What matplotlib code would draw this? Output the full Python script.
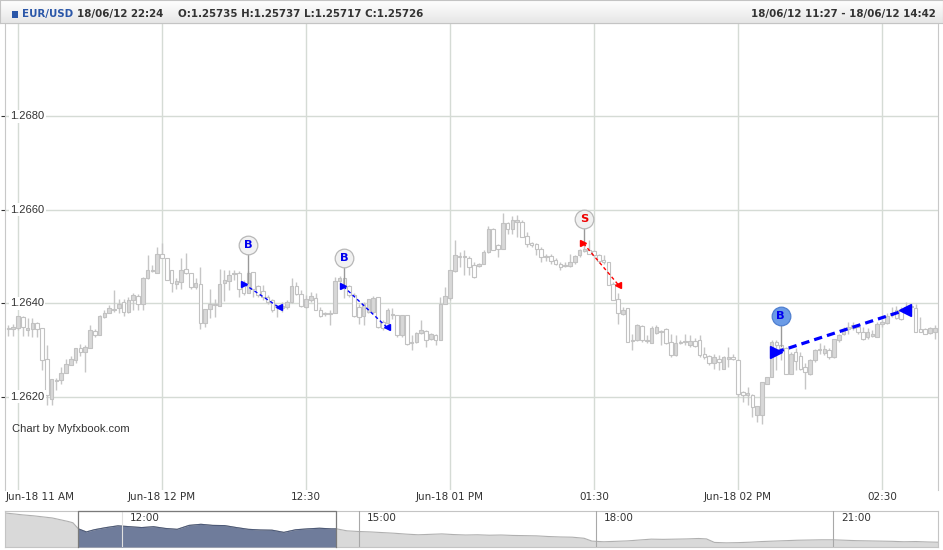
import matplotlib.pyplot as plt
import numpy as np
from matplotlib.patches import Rectangle

# EUR/USD 1-minute candles, x = minutes from the "11 AM" gridline
minutes = list(range(-3, 192))
opens = [1.26346, 1.26344, 1.26345, 1.26346, 1.26371, 1.26343, 1.26345, 1.26358, 1.26346, 1.26280,
         1.26194, 1.26234, 1.26236, 1.26251, 1.26268, 1.26278, 1.26303, 1.26295, 1.26305, 1.26340,
         1.26331, 1.26370, 1.26380, 1.26386, 1.26390, 1.26403, 1.26382, 1.26406, 1.26416, 1.26398,
         1.26453, 1.26470, 1.26465, 1.26506, 1.26497, 1.26471, 1.26442, 1.26446, 1.26474, 1.26465,
         1.26434, 1.26442, 1.26358, 1.26388, 1.26396, 1.26394, 1.26444, 1.26447, 1.26463, 1.26465,
         1.26442, 1.26421, 1.26467, 1.26436, 1.26426, 1.26414, 1.26406, 1.26393, 1.26390, 1.26391,
         1.26403, 1.26436, 1.26420, 1.26391, 1.26406, 1.26412, 1.26386, 1.26376, 1.26379, 1.26379,
         1.26447, 1.26455, 1.26436, 1.26417, 1.26392, 1.26372, 1.26381, 1.26381, 1.26413, 1.26360,
         1.26358, 1.26374, 1.26374, 1.26331, 1.26374, 1.26316, 1.26317, 1.26336, 1.26341, 1.26324,
         1.26331, 1.26322, 1.26399, 1.26412, 1.26470, 1.26501, 1.26499, 1.26496, 1.26481, 1.26479,
         1.26485, 1.26510, 1.26558, 1.26524, 1.26517, 1.26571, 1.26558, 1.26574, 1.26574, 1.26544,
         1.26528, 1.26526, 1.26515, 1.26501, 1.26501, 1.26492, 1.26484, 1.26479, 1.26480, 1.26488,
         1.26503, 1.26512, 1.26514, 1.26512, 1.26503, 1.26493, 1.26489, 1.26442, 1.26410, 1.26376,
         1.26389, 1.26321, 1.26321, 1.26351, 1.26321, 1.26314, 1.26336, 1.26341, 1.26344, 1.26317,
         1.26289, 1.26317, 1.26316, 1.26310, 1.26320, 1.26321, 1.26291, 1.26286, 1.26271, 1.26281,
         1.26260, 1.26280, 1.26284, 1.26279, 1.26209, 1.26204, 1.26203, 1.26160, 1.26160, 1.26228,
         1.26242, 1.26317, 1.26310, 1.26304, 1.26249, 1.26296, 1.26286, 1.26264, 1.26248, 1.26278,
         1.26299, 1.26294, 1.26299, 1.26284, 1.26321, 1.26335, 1.26344, 1.26346, 1.26348, 1.26339,
         1.26328, 1.26330, 1.26328, 1.26356, 1.26358, 1.26375, 1.26386, 1.26385, 1.26386, 1.26393,
         1.26389, 1.26344, 1.26344, 1.26336, 1.26338]
highs = [1.26352, 1.26353, 1.26355, 1.26373, 1.26372, 1.26369, 1.26369, 1.26360, 1.26346, 1.26310,
         1.26237, 1.26239, 1.26263, 1.26281, 1.26286, 1.26303, 1.26313, 1.26310, 1.26353, 1.26344,
         1.26374, 1.26385, 1.26396, 1.26429, 1.26410, 1.26410, 1.26413, 1.26421, 1.26419, 1.26456,
         1.26503, 1.26481, 1.26521, 1.26529, 1.26497, 1.26471, 1.26453, 1.26496, 1.26508, 1.26465,
         1.26453, 1.26478, 1.26388, 1.26431, 1.26410, 1.26474, 1.26472, 1.26472, 1.26472, 1.26469,
         1.26449, 1.26470, 1.26467, 1.26439, 1.26439, 1.26417, 1.26410, 1.26396, 1.26403, 1.26406,
         1.26455, 1.26446, 1.26428, 1.26417, 1.26424, 1.26421, 1.26392, 1.26381, 1.26385, 1.26456,
         1.26458, 1.26455, 1.26439, 1.26421, 1.26399, 1.26403, 1.26410, 1.26415, 1.26413, 1.26364,
         1.26389, 1.26389, 1.26374, 1.26374, 1.26374, 1.26331, 1.26339, 1.26365, 1.26342, 1.26336,
         1.26335, 1.26413, 1.26434, 1.26472, 1.26535, 1.26510, 1.26514, 1.26501, 1.26489, 1.26486,
         1.26514, 1.26565, 1.26560, 1.26526, 1.26594, 1.26574, 1.26586, 1.26589, 1.26578, 1.26553,
         1.26531, 1.26528, 1.26521, 1.26506, 1.26506, 1.26496, 1.26489, 1.26489, 1.26506, 1.26503,
         1.26517, 1.26529, 1.26536, 1.26514, 1.26506, 1.26503, 1.26489, 1.26446, 1.26421, 1.26391,
         1.26389, 1.26335, 1.26356, 1.26353, 1.26331, 1.26351, 1.26353, 1.26343, 1.26346, 1.26335,
         1.26331, 1.26321, 1.26335, 1.26331, 1.26326, 1.26331, 1.26306, 1.26289, 1.26292, 1.26289,
         1.26286, 1.26306, 1.26292, 1.26280, 1.26211, 1.26221, 1.26206, 1.26180, 1.26231, 1.26242,
         1.26321, 1.26321, 1.26310, 1.26306, 1.26296, 1.26304, 1.26296, 1.26271, 1.26280, 1.26301,
         1.26314, 1.26310, 1.26303, 1.26324, 1.26335, 1.26349, 1.26360, 1.26360, 1.26353, 1.26349,
         1.26346, 1.26342, 1.26360, 1.26364, 1.26378, 1.26392, 1.26394, 1.26392, 1.26403, 1.26399,
         1.26399, 1.26371, 1.26346, 1.26349, 1.26353]
lows = [1.26330, 1.26329, 1.26329, 1.26342, 1.26329, 1.26329, 1.26328, 1.26328, 1.26256, 1.26181,
        1.26181, 1.26215, 1.26228, 1.26251, 1.26268, 1.26272, 1.26288, 1.26253, 1.26305, 1.26328,
        1.26331, 1.26369, 1.26378, 1.26381, 1.26378, 1.26372, 1.26378, 1.26385, 1.26385, 1.26385,
        1.26451, 1.26467, 1.26465, 1.26496, 1.26449, 1.26424, 1.26431, 1.26430, 1.26463, 1.26431,
        1.26431, 1.26344, 1.26348, 1.26369, 1.26371, 1.26394, 1.26405, 1.26429, 1.26449, 1.26414,
        1.26417, 1.26421, 1.26414, 1.26414, 1.26406, 1.26399, 1.26381, 1.26371, 1.26381, 1.26388,
        1.26401, 1.26417, 1.26392, 1.26390, 1.26403, 1.26385, 1.26371, 1.26372, 1.26353, 1.26379,
        1.26442, 1.26412, 1.26414, 1.26371, 1.26355, 1.26353, 1.26378, 1.26378, 1.26346, 1.26342,
        1.26356, 1.26367, 1.26328, 1.26328, 1.26310, 1.26299, 1.26314, 1.26335, 1.26306, 1.26321,
        1.26310, 1.26322, 1.26399, 1.26406, 1.26467, 1.26478, 1.26460, 1.26460, 1.26455, 1.26478,
        1.26484, 1.26508, 1.26514, 1.26499, 1.26517, 1.26549, 1.26549, 1.26542, 1.26542, 1.26521,
        1.26521, 1.26503, 1.26489, 1.26491, 1.26485, 1.26481, 1.26471, 1.26478, 1.26478, 1.26485,
        1.26499, 1.26510, 1.26506, 1.26499, 1.26486, 1.26485, 1.26439, 1.26406, 1.26356, 1.26374,
        1.26317, 1.26299, 1.26319, 1.26317, 1.26314, 1.26314, 1.26335, 1.26310, 1.26312, 1.26285,
        1.26286, 1.26312, 1.26310, 1.26306, 1.26306, 1.26285, 1.26281, 1.26267, 1.26260, 1.26256,
        1.26259, 1.26264, 1.26278, 1.26199, 1.26189, 1.26181, 1.26156, 1.26146, 1.26141, 1.26228,
        1.26242, 1.26256, 1.26278, 1.26249, 1.26248, 1.26256, 1.26256, 1.26217, 1.26246, 1.26274,
        1.26292, 1.26289, 1.26281, 1.26282, 1.26317, 1.26331, 1.26335, 1.26342, 1.26335, 1.26321,
        1.26324, 1.26328, 1.26328, 1.26349, 1.26356, 1.26371, 1.26366, 1.26365, 1.26381, 1.26381,
        1.26339, 1.26339, 1.26334, 1.26333, 1.26324]
closes = [1.26344, 1.26346, 1.26348, 1.26372, 1.26350, 1.26347, 1.26358, 1.26344, 1.26279, 1.26204,
          1.26237, 1.26236, 1.26251, 1.26269, 1.26281, 1.26303, 1.26296, 1.26306, 1.26342, 1.26331,
          1.26372, 1.26380, 1.26389, 1.26387, 1.26398, 1.26381, 1.26406, 1.26417, 1.26398, 1.26453,
          1.26472, 1.26471, 1.26505, 1.26496, 1.26449, 1.26444, 1.26448, 1.26472, 1.26465, 1.26434,
          1.26444, 1.26358, 1.26388, 1.26398, 1.26398, 1.26442, 1.26449, 1.26460, 1.26465, 1.26431,
          1.26421, 1.26464, 1.26431, 1.26417, 1.26414, 1.26403, 1.26385, 1.26391, 1.26394, 1.26403,
          1.26436, 1.26420, 1.26395, 1.26408, 1.26415, 1.26386, 1.26372, 1.26379, 1.26376, 1.26447,
          1.26455, 1.26435, 1.26417, 1.26372, 1.26371, 1.26398, 1.26408, 1.26412, 1.26349, 1.26346,
          1.26386, 1.26376, 1.26331, 1.26374, 1.26312, 1.26315, 1.26336, 1.26343, 1.26322, 1.26333,
          1.26321, 1.26399, 1.26415, 1.26471, 1.26503, 1.26498, 1.26500, 1.26478, 1.26456, 1.26485,
          1.26510, 1.26558, 1.26514, 1.26515, 1.26572, 1.26558, 1.26578, 1.26579, 1.26542, 1.26526,
          1.26524, 1.26515, 1.26499, 1.26498, 1.26491, 1.26484, 1.26478, 1.26480, 1.26489, 1.26501,
          1.26514, 1.26517, 1.26506, 1.26503, 1.26491, 1.26488, 1.26439, 1.26406, 1.26378, 1.26386,
          1.26317, 1.26320, 1.26353, 1.26321, 1.26320, 1.26346, 1.26349, 1.26338, 1.26314, 1.26289,
          1.26314, 1.26314, 1.26319, 1.26319, 1.26309, 1.26289, 1.26285, 1.26271, 1.26284, 1.26274,
          1.26284, 1.26284, 1.26280, 1.26206, 1.26203, 1.26207, 1.26178, 1.26179, 1.26231, 1.26242,
          1.26317, 1.26310, 1.26305, 1.26249, 1.26292, 1.26276, 1.26260, 1.26253, 1.26278, 1.26299,
          1.26302, 1.26301, 1.26284, 1.26324, 1.26331, 1.26342, 1.26349, 1.26353, 1.26339, 1.26324,
          1.26339, 1.26335, 1.26356, 1.26360, 1.26372, 1.26379, 1.26368, 1.26367, 1.26392, 1.26391,
          1.26339, 1.26339, 1.26335, 1.26346, 1.26347]

ytick_values = [1.2620, 1.2640, 1.2660, 1.2680]
xtick_minutes = [0, 30, 60, 90, 120, 150, 180]
xtick_labels = ['Jun-18 11 AM', 'Jun-18 12 PM', '12:30', 'Jun-18 01 PM',
                '01:30', 'Jun-18 02 PM', '02:30']

# buy / sell signals (circle position and where the stem ends)
signal_letters = ['B', 'B', 'S', 'B']
signal_minutes = [47.9, 67.9, 118.0, 158.9]
signal_prices = [1.26524, 1.26496, 1.26580, 1.26372]
stem_prices = [1.26443, 1.26442, 1.26529, 1.26308]
signal_fill = ['#f1f1f1', '#f1f1f1', '#f1f1f1', '#6b9be6']
signal_text = ['#0000ee', '#0000ee', '#ee0000', '#0000ee']

# trades: open -> close
trade_open_min = [47.1, 67.8, 117.8, 157.9]
trade_open_px = [1.26441, 1.26436, 1.26528, 1.26295]
trade_close_min = [54.4, 76.8, 125.1, 184.8]
trade_close_px = [1.26391, 1.26349, 1.26439, 1.26385]
trade_colors = ['#0000ff', '#0000ff', '#ff0000', '#0000ff']
trade_big = [False, False, False, True]

# navigator series (hours, header time zone)
nav_hours = [10.52, 10.65, 10.75, 10.88, 11.00, 11.12, 11.22, 11.32, 11.38, 11.45,
             11.55, 11.65, 11.80, 11.95, 12.10, 12.25, 12.40, 12.55, 12.70, 12.85,
             13.00, 13.15, 13.30, 13.45, 13.60, 13.75, 13.90, 14.05, 14.20, 14.35,
             14.50, 14.65, 14.72, 14.85, 15.00, 15.15, 15.30, 15.45, 15.60, 15.75,
             15.90, 16.05, 16.20, 16.35, 16.50, 16.65, 16.80, 16.95, 17.10, 17.25,
             17.40, 17.55, 17.70, 17.85, 17.95, 18.10, 18.25, 18.40, 18.55, 18.70,
             18.85, 19.00, 19.15, 19.30, 19.40, 19.50, 19.65, 19.80, 19.95, 20.10,
             20.25, 20.40, 20.55, 20.70, 20.85, 21.00, 21.15, 21.30, 21.45, 21.60,
             21.75, 21.90, 22.05, 22.20, 22.33]
nav_close = [1.2707, 1.2702, 1.2698, 1.2694, 1.2689, 1.2684, 1.2676, 1.2668, 1.2662, 1.2634,
             1.2620, 1.2630, 1.2640, 1.2648, 1.2644, 1.2640, 1.2644, 1.2636, 1.2632, 1.2650,
             1.2655, 1.2650, 1.2649, 1.2640, 1.2632, 1.2629, 1.2628, 1.2618, 1.2630, 1.2634,
             1.2637, 1.2634, 1.2634, 1.2625, 1.2622, 1.2620, 1.2617, 1.2614, 1.2610, 1.2607,
             1.2609, 1.2611, 1.2608, 1.2606, 1.2607, 1.2605, 1.2606, 1.2604, 1.2603, 1.2602,
             1.2599, 1.2597, 1.2596, 1.2591, 1.2578, 1.2575, 1.2577, 1.2579, 1.2583, 1.2587,
             1.2586, 1.2587, 1.2588, 1.2590, 1.2588, 1.2572, 1.2570, 1.2571, 1.2573, 1.2576,
             1.2578, 1.2580, 1.2582, 1.2583, 1.2584, 1.2584, 1.2582, 1.2580, 1.2579, 1.2578,
             1.2577, 1.2575, 1.2576, 1.2574, 1.2573]
nav_ticks = [12, 15, 18, 21]
nav_tick_labels = ['12:00', '15:00', '18:00', '21:00']
sel_start, sel_end = 11.443, 14.709

W, H = 943, 550
TXT = '#333333'
GRID = '#d5dbd5'


def fx(px):
    return px / W


def fy(py):
    return 1 - py / H


fig = plt.figure(figsize=(W / 100, H / 100), dpi=100)

# ---- main candlestick panel ----
ax = fig.add_axes([fx(5), fy(490), fx(933), 467 / H])
ax.set_xlim(-2.71, 191.67)
ax.set_ylim(1.2600, 1.2700)

o = np.array(opens)
c = np.array(closes)
up = c >= o
ax.vlines(minutes, lows, highs, color='#c6c6c6', lw=1, zorder=2)
body_bottom = np.minimum(o, c)
body_h = np.maximum(np.abs(c - o), 0.00002)
ax.bar(minutes, body_h, bottom=body_bottom, width=0.72,
       color=np.where(up, '#d8d8d8', '#ffffff'), edgecolor='#c2c2c2',
       linewidth=0.8, zorder=3)

ax.set_xticks(xtick_minutes)
ax.set_yticks(ytick_values)
ax.grid(True, color=GRID, lw=1, zorder=0)
ax.set_axisbelow(True)
ax.tick_params(axis='x', length=0, labelbottom=False)
ax.tick_params(axis='y', length=3, width=0.8, color='#333333', labelleft=False)
for side in ['left', 'right', 'top']:
    ax.spines[side].set_color('#c8c8c8')
ax.spines['bottom'].set_visible(False)

for v in ytick_values:
    ax.text(0.0055, v, f'{v:.4f}', transform=ax.get_yaxis_transform(),
            ha='left', va='center', fontsize=8, color=TXT,
            family=['Liberation Sans', 'DejaVu Sans'],
            bbox=dict(facecolor='white', edgecolor='none', pad=1.0), zorder=5)

# trades
for i in range(len(trade_open_min)):
    big = trade_big[i]
    lw = 2.3 if big else 1.0
    dash = (2.6, 1.6) if big else (2.5, 2.0)
    ax.plot([trade_open_min[i], trade_close_min[i]], [trade_open_px[i], trade_close_px[i]],
            color=trade_colors[i], lw=lw, dashes=dash, zorder=6)
    ms = 9 if big else 4
    ax.plot(trade_open_min[i], trade_open_px[i], marker='>', ms=ms,
            color=trade_colors[i], mec=trade_colors[i], zorder=7)
    ax.plot(trade_close_min[i], trade_close_px[i], marker='<', ms=ms,
            color=trade_colors[i], mec=trade_colors[i], zorder=7)

# signal flags
for i in range(len(signal_letters)):
    ax.plot([signal_minutes[i], signal_minutes[i]], [signal_prices[i], stem_prices[i]],
            color='#999999', lw=1, zorder=6)
    ec = '#4f7fd0' if signal_fill[i] != '#f1f1f1' else '#b8b8b8'
    ax.scatter([signal_minutes[i]], [signal_prices[i]], s=180, marker='o',
               facecolor=signal_fill[i], edgecolor=ec, linewidth=0.9, zorder=8)
    ax.text(signal_minutes[i], signal_prices[i], signal_letters[i], ha='center',
            va='center', fontsize=8.2, fontweight='bold', color=signal_text[i],
            family=['DejaVu Sans'], zorder=9)

fig.text(fx(12), fy(429), 'Chart by Myfxbook.com', ha='left', va='center',
         fontsize=8, color=TXT, family=['Liberation Sans', 'DejaVu Sans'])

# x labels
for i, (m, lab) in enumerate(zip(xtick_minutes, xtick_labels)):
    xpx = 18 + 4.8 * m
    if i == 0:
        fig.text(fx(6), fy(497), lab, ha='left', va='center', fontsize=7.5,
                 color=TXT, family=['Liberation Sans Narrow', 'DejaVu Sans'])
    else:
        fig.text(fx(xpx), fy(497), lab, ha='center', va='center', fontsize=7.5,
                 color=TXT, family=['Liberation Sans Narrow', 'DejaVu Sans'])

# ---- header bar ----
hax = fig.add_axes([0, fy(23), 1, 23 / H])
grad = np.linspace(1.0, 0.9, 50).reshape(-1, 1)
hax.imshow(grad, aspect='auto', cmap='gray', vmin=0, vmax=1,
           extent=[0, 1, 0, 1], origin='upper')
hax.set_xlim(0, 1)
hax.set_ylim(0, 1)
hax.set_xticks([])
hax.set_yticks([])
for s in hax.spines.values():
    s.set_color('#c4c4c4')

hfont = ['DejaVu Sans']
fig.patches.append(Rectangle((fx(12), fy(17.5)), fx(6), 6.5 / H, transform=fig.transFigure,
                             facecolor='#2a56a8', edgecolor='none', zorder=10))
fig.text(fx(22), fy(14), 'EUR/USD', ha='left', va='center', fontsize=7.4,
         fontweight='bold', color='#2a56a8', family=hfont)
fig.text(fx(77), fy(14), '18/06/12 22:24', ha='left', va='center', fontsize=7.4,
         fontweight='bold', color=TXT, family=hfont)
fig.text(fx(178), fy(14), 'O:1.25735 H:1.25737 L:1.25717 C:1.25726', ha='left',
         va='center', fontsize=7.4, fontweight='bold', color=TXT, family=hfont)
fig.text(fx(936), fy(14), '18/06/12 11:27 - 18/06/12 14:42', ha='right', va='center',
         fontsize=7.4, fontweight='bold', color=TXT, family=hfont)

# ---- navigator ----
nav = fig.add_axes([fx(5), fy(547), fx(933), 36 / H])
nav.set_xlim(10.52, 22.33)
ybot, ytop = 1.2551, 1.2716
nav.set_ylim(ybot, ytop)
nav.fill_between(nav_hours, nav_close, ybot, color='#d9d9d9', lw=0, zorder=1)
nav.plot(nav_hours, nav_close, color='#b0b0b0', lw=0.8, zorder=2)
sel = Rectangle((sel_start, ybot), sel_end - sel_start, ytop - ybot, transform=nav.transData)
dark = nav.fill_between(nav_hours, nav_close, ybot, color='#6f7c9b', lw=0, zorder=3)
dark.set_clip_path(sel)
dline, = nav.plot(nav_hours, nav_close, color='#4d5a78', lw=0.8, zorder=4)
dline.set_clip_path(sel)
for t, lab in zip(nav_ticks, nav_tick_labels):
    lc = '#e0e0e0' if sel_start < t < sel_end else '#a8a8a8'
    nav.axvline(t, color=lc, lw=0.8, zorder=5)
    nav.text(t + 0.1, ytop - (ytop - ybot) * 0.2, lab, ha='left', va='center',
             fontsize=7.5, color=TXT, family=['Liberation Sans Narrow', 'DejaVu Sans'],
             zorder=6)
nav.plot([sel_start, sel_start, sel_end, sel_end], [ybot, ytop, ytop, ybot],
         color='#7a7a7a', lw=0.9, zorder=7, clip_on=False)
nav.set_xticks([])
nav.set_yticks([])
for s in nav.spines.values():
    s.set_color('#c4c4c4')

fig.savefig('out.png', dpi=100)
